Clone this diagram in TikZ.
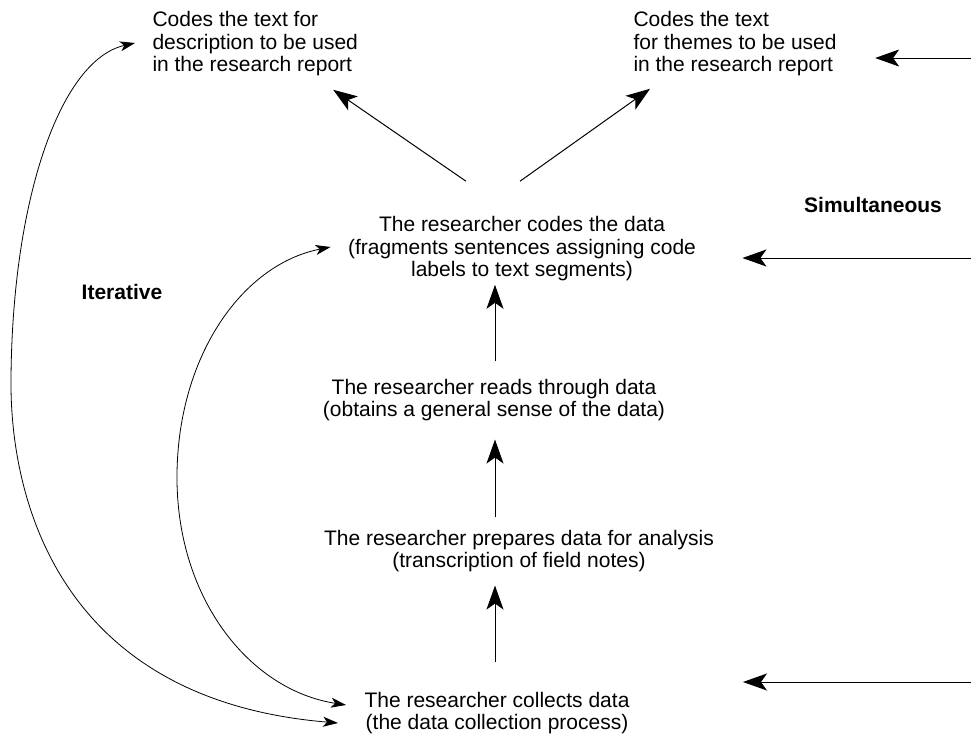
\documentclass[tikz,border=0pt]{standalone}
\usepackage{fontspec}
\setmainfont{Liberation Sans}
\usetikzlibrary{arrows.meta,positioning,calc}
\definecolor{ink}{RGB}{0,0,0}
\tikzset{
  every picture/.style={color=ink, line width=0.5pt, font=\fontsize{10.5}{11.25}\selectfont},
  stage/.style={inner sep=0pt, align=center},
  goal/.style={inner sep=0pt, align=left, anchor=west},
  tag/.style={inner sep=0pt, font=\fontsize{10.5}{11.25}\selectfont\bfseries},
  flow/.style={-{Stealth[length=12pt,width=8.5pt,inset=3pt]}, line width=0.5pt},
  again/.style={{Stealth[length=7.5pt,width=5pt,inset=2pt]}-{Stealth[length=7.5pt,width=5pt,inset=2pt]}, line width=0.4pt},
}

\begin{document}
\begin{tikzpicture}[x=0.5pt, y=-0.5pt]
  \useasboundingbox (0,0) rectangle (971,735);
  % stages
  \node[stage] (codes) at (522,249) {The researcher codes the data\\(fragments sentences assigning code\\labels to text segments)};
  \node[stage] (reads) at (494,400) {The researcher reads through data\\(obtains a general sense of the data)};
  \node[stage] (prep) at (519,551) {The researcher prepares data for analysis\\(transcription of field notes)};
  \node[stage] (collect) at (497,713) {The researcher collects data\\(the data collection process)};
  % outcomes
  \node[goal] (desc) at (152,44) {Codes the text for\\description to be used\\in the research report};
  \node[goal] (themes) at (633,44) {Codes the text\\for themes to be used\\in the research report};
  \node[tag] (simul) at (873,205) {Simultaneous};
  \node[tag] (iter) at (122,292) {Iterative};
  % upward steps
  \coordinate (spine) at (495,0);
  \draw[flow, shorten <=14.5pt, shorten >=6.5pt] (collect.north -| spine) -- (prep.south -| spine);
  \draw[flow, shorten <=6pt, shorten >=9pt] (prep.north -| spine) -- (reads.south -| spine);
  \draw[flow, shorten <=8.5pt, shorten >=1.5pt] (reads.north -| spine) -- (codes.south -| spine);
  \draw[flow] ([shift={(-56,-35)}]codes.north) -- ([shift={(78,13)}]desc.south);
  \draw[flow] ([shift={(-2,-35)}]codes.north) -- ([shift={(-85,12)}]themes.south);
  % simultaneous inputs
  \coordinate (r1) at (971,58);
  \coordinate (r2) at (971,258);
  \coordinate (r3) at (971,682);
  \draw[flow, shorten >=19pt] (r1) -- (r1 -| themes.east);
  \draw[flow, shorten >=23pt] (r2) -- (r2 -| codes.east);
  \draw[flow, shorten >=56.5pt] (r3) -- (r3 -| collect.east);
  % iterative loops
  \draw[again] ([shift={(-26,10)}]collect.west) .. controls (60,700) and (10,500) .. (11,380)
    .. controls (12,200) and (60,60) .. ([shift={(-17,-1)}]desc.west);
  \draw[again] ([shift={(-18,-8)}]collect.west) .. controls (250,690) and (178,600) .. (177,480)
    .. controls (176,360) and (240,265) .. ([shift={(-17,-2)}]codes.west);
\end{tikzpicture}
\end{document}
